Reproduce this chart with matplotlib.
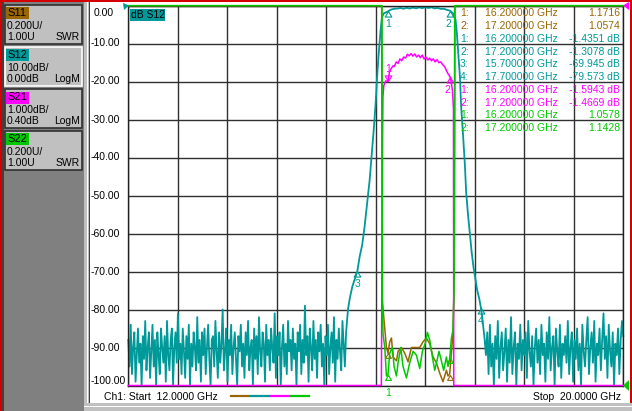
import numpy as np
import matplotlib
matplotlib.use("Agg")
import matplotlib.pyplot as plt
from matplotlib.patches import Rectangle, Polygon
from matplotlib.lines import Line2D

plt.rcParams['font.family'] = ['Liberation Sans', 'DejaVu Sans']

W, H = 632, 411
BROWN = '#996600'
TEAL = '#009999'
MAGENTA = '#ff00ff'
GREEN = '#00c800'

# ---- S12 (dB, 10 dB/div, ref 0 dB at top) ----
# stopband noise below the filter, 12.0 .. 15.50 GHz
s12_low_start, s12_low_stop = 12.0, 15.50
s12_low_noise = [
    -88, -95, -84, -97, -90, -86, -99, -92, -85, -94, -89, -101, -87, -93, -83,
    -96, -90, -86, -98, -91, -84, -95, -88, -100, -86, -92, -97, -85, -90, -94,
    -87, -99, -83, -92, -96, -88, -85, -102, -90, -86, -94, -81, -93, -89, -97,
    -85, -91, -98, -87, -93, -84, -100, -89, -95, -86, -90, -96, -82, -94, -88,
    -99, -86, -92, -85, -97, -90, -84, -93, -101, -88, -87, -95, -83, -91, -98,
    -86, -94, -89, -80, -96, -91, -85, -99, -88, -92, -84, -97, -90, -86, -93,
    -100, -87, -91, -84, -95, -89, -98, -86, -92, -83, -96, -90, -88, -102, -85,
    -93, -87, -97, -82, -91, -95, -86, -89, -99, -84, -92, -88, -96, -85, -90,
    -94, -81, -98, -87, -92, -86, -100, -90, -84, -95, -89, -97, -83, -91, -88,
    -96, -85, -93, -89, -101, -86, -91, -84, -97, -88, -94, -79, -92, -87, -99,
    -85, -90, -96, -83, -93, -88, -98, -86, -91, -84, -95, -89, -100, -87, -92,
    -84, -97, -90, -86, -94, -82, -99, -88, -93, -85, -91, -96, -83, -89, -95,
]
# skirts and passband
s12_band_freq = [
    15.52, 15.55, 15.58, 15.62, 15.66, 15.70, 15.74, 15.78, 15.82, 15.86,
    15.90, 15.94, 15.97, 16.00, 16.02, 16.05, 16.08, 16.10, 16.13,
    16.15, 16.20, 16.25, 16.30, 16.35, 16.40, 16.45, 16.50, 16.55, 16.60,
    16.65, 16.70, 16.75, 16.80, 16.85, 16.90, 16.95, 17.00, 17.05, 17.10,
    17.15, 17.20, 17.23,
    17.25, 17.29, 17.31, 17.33, 17.36, 17.38, 17.41, 17.44, 17.46, 17.49,
    17.52, 17.55, 17.58, 17.61, 17.64, 17.67, 17.70, 17.72, 17.74, 17.76,
]
s12_band_db = [
    -86, -80, -77, -74, -72, -70, -66, -63, -58, -52,
    -46, -38, -32, -25, -19, -12, -6, -3, -2,
    -1.9, -1.44, -1.0, -0.8, -0.75, -0.6, -0.8, -0.55, -0.75, -0.5,
    -0.7, -0.45, -0.65, -0.4, -0.6, -0.45, -0.7, -0.6, -0.85, -0.8,
    -1.1, -1.31, -1.8,
    -2.0, -3.8, -7.2, -11.7, -18.8, -26.7, -34, -42, -49, -55,
    -60, -65, -69, -72, -75, -77, -79.6, -82, -85, -88,
]
# stopband noise above the filter, 17.78 .. 20.0 GHz
s12_high_start, s12_high_stop = 17.78, 20.0
s12_high_noise = [
    -92, -86, -97, -84, -95, -89, -100, -87, -93, -83, -98, -90, -86, -96, -91,
    -85, -99, -88, -94, -82, -97, -90, -86, -101, -89, -93, -84, -96, -88, -92,
    -86, -98, -83, -91, -95, -87, -100, -90, -85, -94, -88, -97, -84, -92, -89,
    -99, -86, -93, -82, -96, -90, -87, -102, -85, -91, -95, -84, -98, -89, -92,
    -87, -94, -83, -97, -90, -86, -99, -88, -93, -85, -96, -89, -100, -84, -91,
    -95, -88, -82, -97, -90, -86, -94, -83, -99, -89, -92, -85, -96, -88, -81,
    -93, -87, -98, -84, -91, -95, -86, -100, -89, -92, -85, -97, -88, -83, -87,
]

# ---- S21 (dB, 1 dB/div, ref 0.40 dB at top) ----
s21_freq = [
    12.0, 16.09, 16.11, 16.115, 16.13, 16.16, 16.20, 16.22, 16.25, 16.28,
    16.30, 16.33, 16.36, 16.39, 16.42, 16.45, 16.48, 16.51, 16.54, 16.57,
    16.60, 16.63, 16.66, 16.69, 16.72, 16.75, 16.78, 16.81, 16.84, 16.87,
    16.90, 16.93, 16.96, 16.99, 17.02, 17.05, 17.08, 17.11, 17.14, 17.17,
    17.20, 17.22, 17.24, 17.255, 17.26, 17.28, 20.0,
]
s21_db = [
    -60, -25, -3.0, -2.0, -1.7, -1.58, -1.59, -1.35, -1.25, -1.18,
    -1.2, -1.08, -1.12, -1.0, -1.05, -0.95, -0.98, -0.88, -0.92, -0.86,
    -0.93, -0.87, -0.95, -0.9, -0.97, -0.9, -1.0, -0.95, -1.03, -0.98,
    -1.05, -1.0, -1.08, -1.02, -1.1, -1.08, -1.15, -1.2, -1.3, -1.4,
    -1.47, -1.62, -1.85, -2.3, -12, -30, -60,
]

# ---- S11 / S22 (SWR, 0.2 U/div, ref 1.00 U at bottom) ----
s11_freq = [
    12.0, 16.095, 16.105, 16.145, 16.172, 16.198, 16.225, 16.253, 16.279, 16.334,
    16.360, 16.414, 16.468, 16.521, 16.576, 16.629, 16.710, 16.763, 16.818, 16.871,
    16.925, 16.979, 17.033, 17.086, 17.141, 17.167, 17.194, 17.222, 17.247, 17.27,
    17.28, 20.0,
]
s11_swr = [
    4.0, 4.0, 1.45, 1.30, 1.20, 1.17, 1.23, 1.25, 1.15, 1.13,
    1.18, 1.20, 1.17, 1.125, 1.20, 1.20, 1.20, 1.23, 1.25, 1.22,
    1.15, 1.12, 1.065, 1.02, 1.08, 1.05, 1.06, 1.17, 1.28, 1.6,
    4.0, 4.0,
]
s22_freq = [
    12.0, 16.10, 16.107, 16.117, 16.145, 16.172, 16.198, 16.225, 16.269, 16.295,
    16.334, 16.360, 16.403, 16.440, 16.495, 16.548, 16.602, 16.656, 16.710, 16.753,
    16.807, 16.834, 16.871, 16.915, 16.952, 16.989, 17.021, 17.060, 17.097, 17.141,
    17.167, 17.194, 17.222, 17.247, 17.265, 17.275, 20.0,
]
s22_swr = [
    4.0, 4.0, 1.40, 1.27, 1.20, 1.05, 1.06, 1.17, 1.20, 1.10,
    1.05, 1.12, 1.20, 1.10, 1.04, 1.12, 1.18, 1.16, 1.09, 1.18,
    1.23, 1.28, 1.24, 1.15, 1.08, 1.13, 1.18, 1.13, 1.08, 1.15,
    1.10, 1.14, 1.25, 1.29, 1.5, 4.0, 4.0,
]

# ---- markers ----
s12_mk_freq = [16.2, 17.2, 15.7, 17.7]
s12_mk_db = [-1.4351, -1.3078, -69.945, -79.573]
s21_mk_freq = [16.2, 17.2]
s21_mk_db = [-1.5943, -1.4669]
swr_mk_freq = [16.2, 17.2]
s11_mk_swr = [1.1716, 1.0574]
s22_mk_swr = [1.0578, 1.1428]

table_num = ['1:', '2:', '1:', '2:', '3:', '4:', '1:', '2:', '1:', '2:']
table_freq = ['16.200000 GHz', '17.200000 GHz', '16.200000 GHz', '17.200000 GHz',
              '15.700000 GHz', '17.700000 GHz', '16.200000 GHz', '17.200000 GHz',
              '16.200000 GHz', '17.200000 GHz']
table_val = ['1.1716', '1.0574', '-1.4351 dB', '-1.3078 dB', '-69.945 dB',
             '-79.573 dB', '-1.5943 dB', '-1.4669 dB', '1.0578', '1.1428']
table_col = [BROWN, BROWN, TEAL, TEAL, TEAL, TEAL, MAGENTA, MAGENTA, GREEN, GREEN]

y_labels = ['0.00', '-10.00', '-20.00', '-30.00', '-40.00', '-50.00',
            '-60.00', '-70.00', '-80.00', '-90.00', '-100.00']

channels = ['S11', 'S12', 'S21', 'S22']
ch_colors = [BROWN, TEAL, MAGENTA, GREEN]
ch_scale = ['0.200U/', '10.00dB/', '1.000dB/', '0.200U/']
ch_ref = ['1.00U', '0.00dB', '0.40dB', '1.00U']
ch_fmt = ['SWR', 'LogM', 'LogM', 'SWR']


def fx(x):
    return x / W


def fy(y):
    return 1 - y / H


def box(x0, y0, x1, y1, z=-5, **kw):
    fig.add_artist(Rectangle((fx(x0), fy(y1)), (x1 - x0) / W, (y1 - y0) / H,
                             transform=fig.transFigure, zorder=z, **kw))


def label(x, y, s, **kw):
    kw.setdefault('fontsize', 7.5)
    kw.setdefault('va', 'center')
    fig.text(fx(x), fy(y), s, zorder=10, **kw)


fig = plt.figure(figsize=(W / 100, H / 100), dpi=100)
fig.patch.set_facecolor('white')

# window chrome
box(0, 0, 632, 2, fc='#d40000', ec='none')
box(0, 0, 2, 411, fc='#d40000', ec='none')
box(629.5, 0, 632, 411, fc='#d40000', ec='none')
box(2, 2, 84, 411, fc='#808080', ec='none')
box(2, 2, 4, 411, fc='#404040', ec='none')
box(84, 2, 90, 411, fc='#c0c0c0', ec='none')
box(86.5, 2, 87.5, 411, fc='white', ec='none')
box(89, 2, 90, 403, fc='#404040', ec='none')
box(84, 403, 632, 411, fc='#c0c0c0', ec='none')
box(84, 405.5, 632, 406.5, fc='white', ec='none')

# channel soft keys
key_top = [5, 47, 89, 131]
for i, name in enumerate(channels):
    t = key_top[i]
    edge = 'white' if name == 'S12' else '#303030'
    box(5, t, 82, t + 39, fc='#c0c0c0', ec=edge, lw=1.2)
    box(6, t + 2.5, 29.5, t + 14.5, fc=ch_colors[i], ec='none')
    label(7, t + 8.5, name, fontsize=8)
    label(7, t + 21, ch_scale[i])
    label(7, t + 32, ch_ref[i])
    label(80, t + 32, ch_fmt[i], ha='right')

# plot area
rect = [fx(128.3), fy(385.5), (623.3 - 128.3) / W, (385.5 - 5.7) / H]
ax = fig.add_axes(rect, zorder=1)
ax.set_xlim(12, 20)
ax.set_ylim(-100, 0)
ax.set_xticks(np.linspace(12, 20, 11))
ax.set_yticks(np.arange(-100, 1, 10))
ax.tick_params(length=0, labelbottom=False, labelleft=False)
ax.grid(True, color='#303030', lw=1.0)
for s in ax.spines.values():
    s.set_color('#202020')
    s.set_linewidth(1.0)


def overlay(ylim, z):
    a = fig.add_axes(rect, zorder=z)
    a.set_xlim(12, 20)
    a.set_ylim(*ylim)
    a.axis('off')
    return a


ax11 = overlay((1.0, 3.0), 2)
ax21 = overlay((-9.6, 0.4), 3)
ax22 = overlay((1.0, 3.0), 4)

s12_freq = np.concatenate([
    np.linspace(s12_low_start, s12_low_stop, len(s12_low_noise)),
    s12_band_freq,
    np.linspace(s12_high_start, s12_high_stop, len(s12_high_noise)),
])
s12_db = np.concatenate([s12_low_noise, s12_band_db, s12_high_noise])

tr = dict(lw=1.1, clip_on=False)
ax.plot(s12_freq, np.clip(s12_db, -100, 0), color=TEAL, **dict(tr, lw=1.3))
ax11.plot(s11_freq, np.clip(s11_swr, 1, 3), color=BROWN, **tr)
ax21.plot(s21_freq, np.clip(s21_db, -9.6, 0.4), color=MAGENTA, **tr)
ax22.plot(s22_freq, np.clip(s22_swr, 1, 3), color=GREEN, **tr)

# marker triangles, apex on the trace point
TRI_UP = [(0, 0), (-0.6, -1), (0.6, -1), (0, 0)]
TRI_DOWN = [(0, 0), (-0.6, 1), (0.6, 1), (0, 0)]
mk = dict(ls='none', mfc='none', ms=8, mew=0.8, clip_on=False)

ax.plot(s12_mk_freq, s12_mk_db, marker=TRI_UP, color=TEAL, **mk)
for i, (f, v) in enumerate(zip(s12_mk_freq, s12_mk_db)):
    dx = -2 if i == 1 else 0
    ax.annotate(str(i + 1), (f, v), xytext=(dx, -13), textcoords='offset pixels',
                ha='center', va='center', color=TEAL, fontsize=7.5)

ax21.plot(s21_mk_freq[:1], s21_mk_db[:1], marker=TRI_DOWN, color=MAGENTA, **mk)
ax21.plot(s21_mk_freq[1:], s21_mk_db[1:], marker=TRI_UP, color=MAGENTA, **mk)
ax21.annotate('1', (s21_mk_freq[0], s21_mk_db[0]), xytext=(0, 12),
              textcoords='offset pixels', ha='center', va='center',
              color=MAGENTA, fontsize=7.5)
ax21.annotate('2', (s21_mk_freq[1], s21_mk_db[1]), xytext=(-3, -13),
              textcoords='offset pixels', ha='center', va='center',
              color=MAGENTA, fontsize=7.5)

ax11.plot(swr_mk_freq, s11_mk_swr, marker=TRI_UP, color=BROWN, **dict(mk, ms=7))
ax22.plot(swr_mk_freq, s22_mk_swr, marker=TRI_UP, color=GREEN, **dict(mk, ms=7))
ax22.annotate('1', (swr_mk_freq[0], 1.0), xytext=(0, -7),
              textcoords='offset pixels', ha='center', va='center',
              color=GREEN, fontsize=7.5, annotation_clip=False)

# reference position arrows
for pts, c in [([(123, 3), (129, 5.5), (124, 10)], TEAL),
               ([(629, 2), (623, 5.5), (629, 10)], MAGENTA),
               ([(629, 380), (623, 385.5), (629, 391)], GREEN)]:
    fig.add_artist(Polygon([(fx(x), fy(y)) for x, y in pts], closed=True, fc=c,
                           ec='none', transform=fig.transFigure, zorder=10))

# trace title
box(130, 9, 164.5, 21, z=9, fc=TEAL, ec='none')
label(131, 15, 'dB S12', color='black')

# y-axis labels
for i, s in enumerate(y_labels):
    if i == 0:
        y = 13.3
    elif i == 10:
        y = 381
    else:
        y = 5.5 + 38 * i
    label(94 if i == 0 else 91, y, s)

# marker readout table
for i in range(len(table_num)):
    y = 13.3 + 12.75 * i
    label(460, y, table_num[i], color=table_col[i])
    label(485, y, table_freq[i], color=table_col[i])
    label(620, y, table_val[i], color=table_col[i], ha='right')

# footer
label(104, 397, 'Ch1: Start  12.0000 GHz')
label(621, 397, 'Stop  20.0000 GHz', ha='right')
for i, c in enumerate(ch_colors):
    x0 = 231 + 20 * i
    fig.add_artist(Line2D([fx(x0), fx(x0 + 18)], [fy(396), fy(396)], color=c,
                          lw=1.6, transform=fig.transFigure, zorder=10))

fig.savefig('out.png', dpi=100)
